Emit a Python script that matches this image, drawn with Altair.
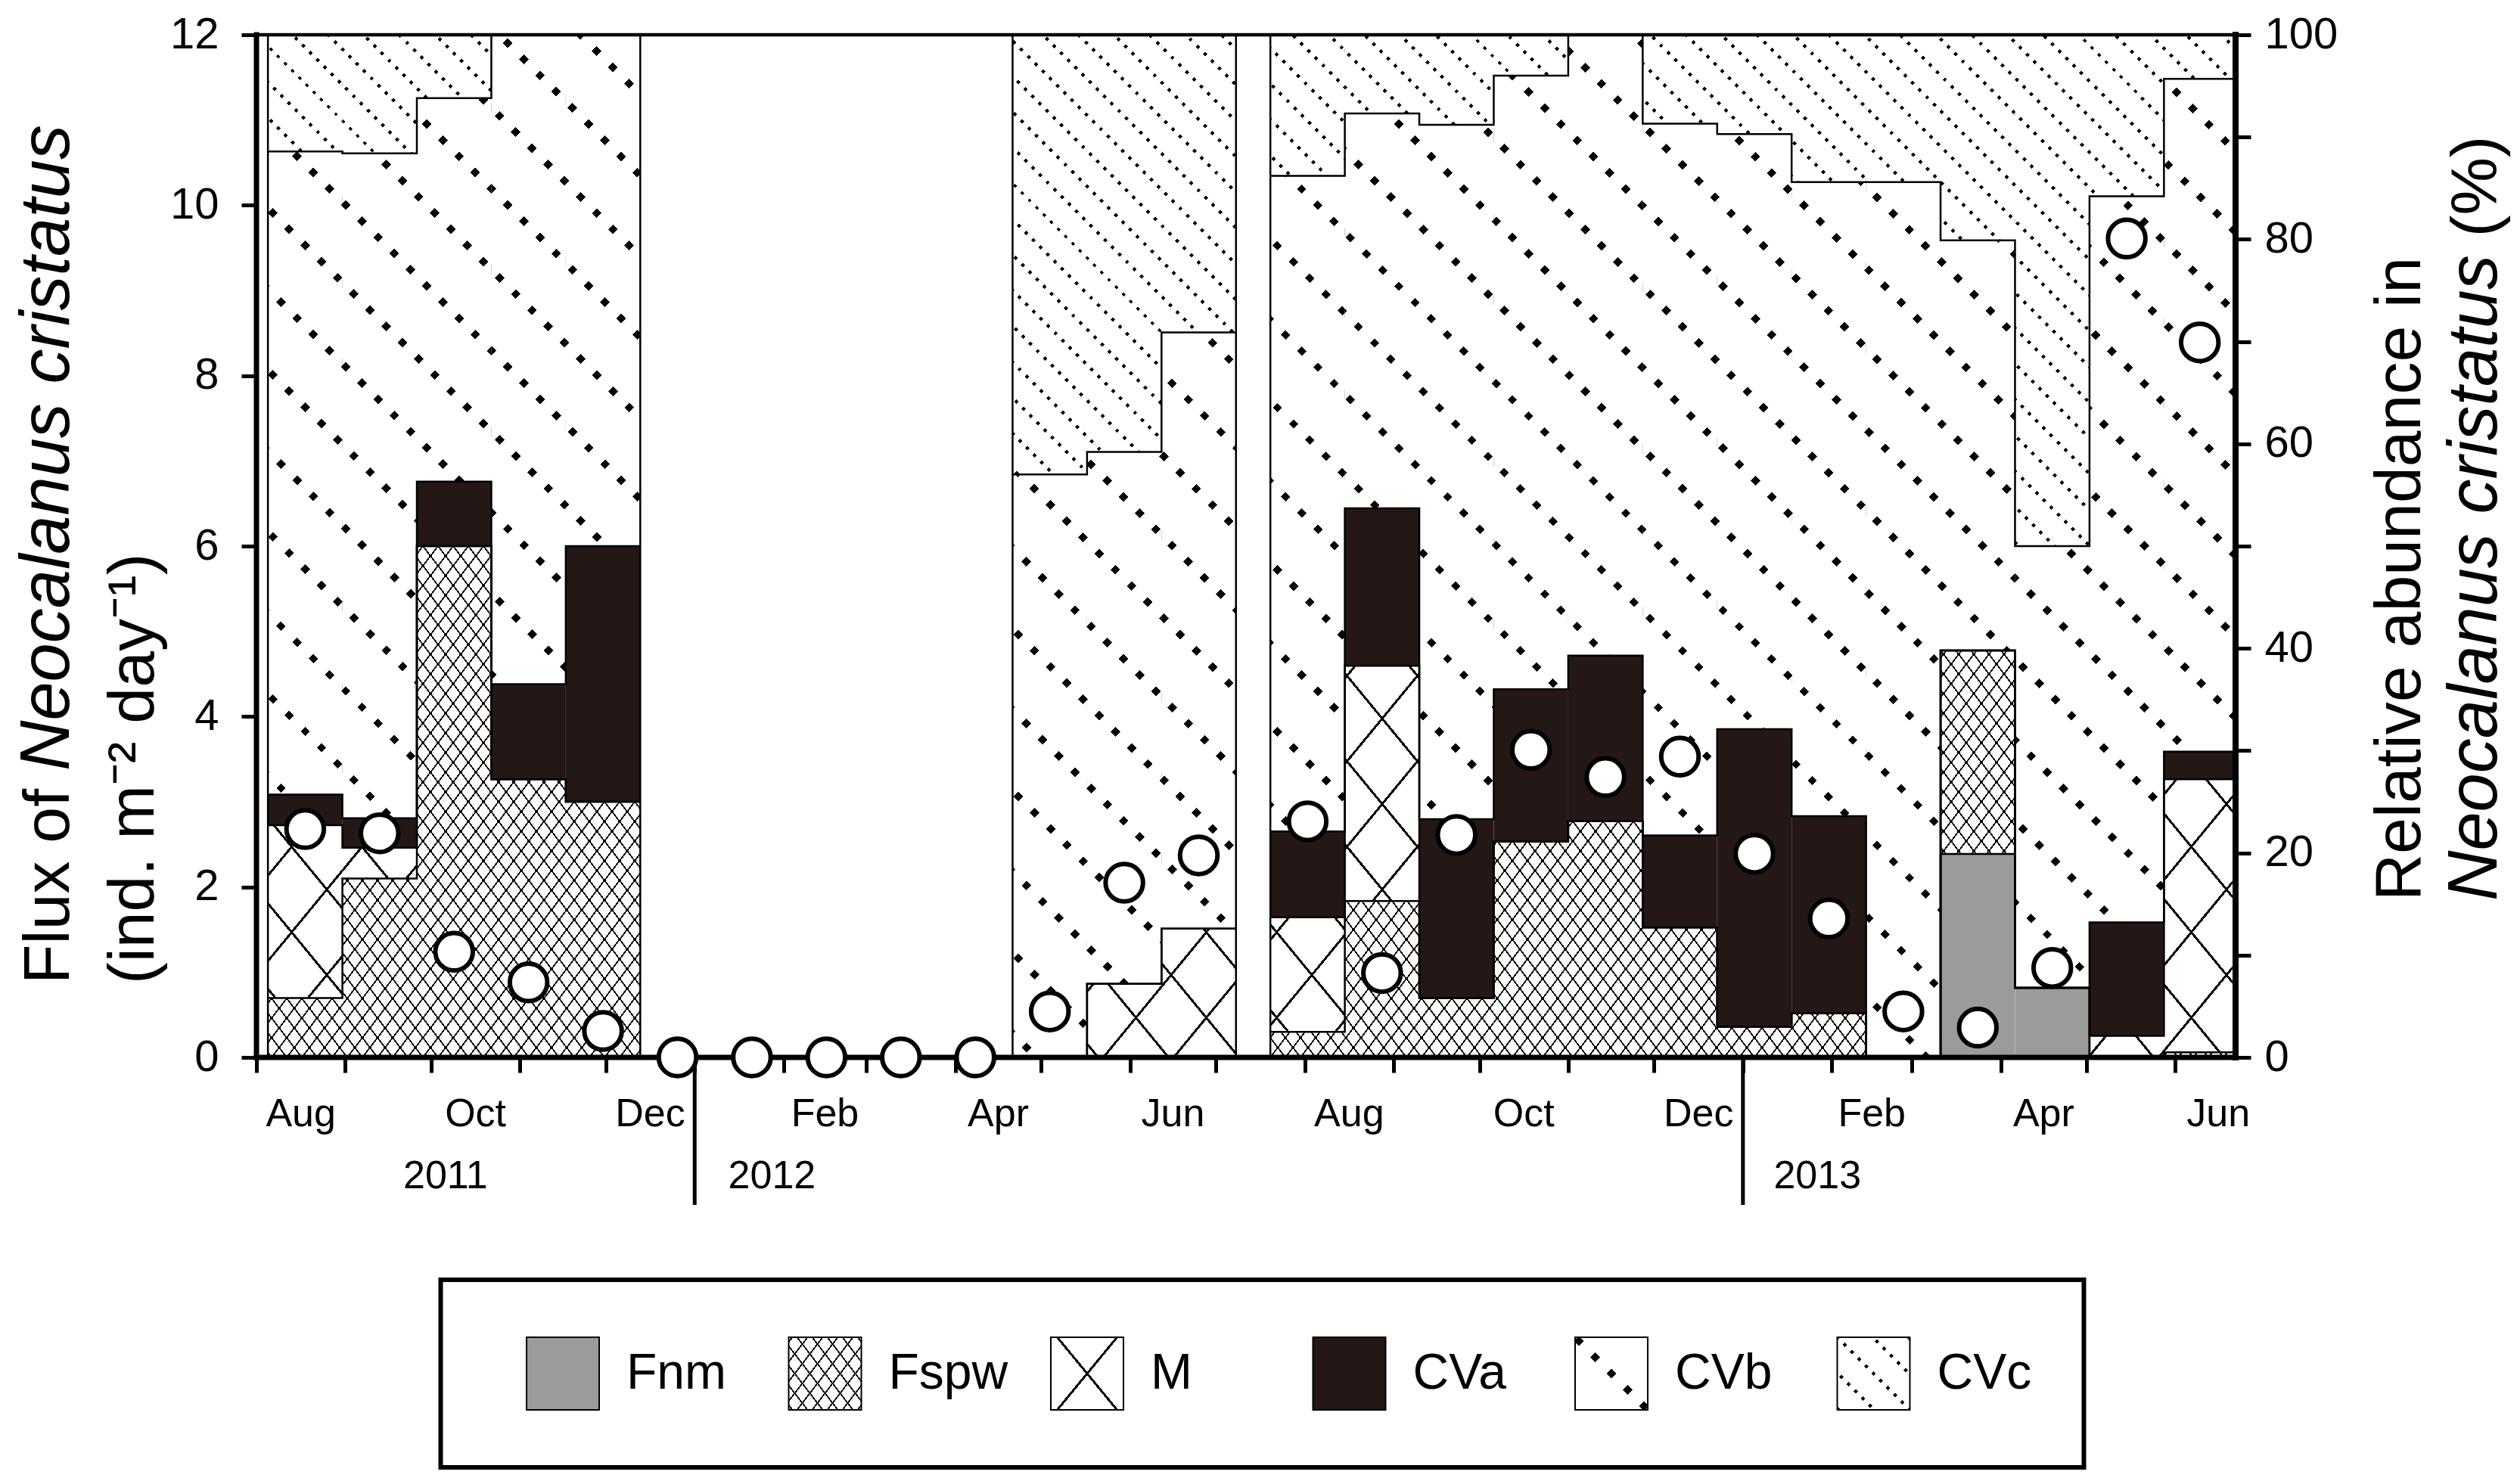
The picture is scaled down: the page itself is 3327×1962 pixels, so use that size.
import math
import datetime as dt
import altair as alt

FONT = "Liberation Sans"

# ---------------- data ----------------
# sediment-trap sampling intervals
starts = ["2011-08-05", "2011-08-31", "2011-09-26", "2011-10-22", "2011-11-17",
          "2011-12-13", "2012-01-08", "2012-02-03", "2012-02-29", "2012-03-26",
          "2012-04-21", "2012-05-17", "2012-06-12",
          "2012-07-20", "2012-08-15", "2012-09-10", "2012-10-06", "2012-11-01",
          "2012-11-27", "2012-12-23", "2013-01-18", "2013-02-13", "2013-03-11",
          "2013-04-06", "2013-05-02", "2013-05-28"]
ends = ["2011-08-31", "2011-09-26", "2011-10-22", "2011-11-17", "2011-12-13",
        "2012-01-08", "2012-02-03", "2012-02-29", "2012-03-26", "2012-04-21",
        "2012-05-17", "2012-06-12", "2012-07-08",
        "2012-08-15", "2012-09-10", "2012-10-06", "2012-11-01", "2012-11-27",
        "2012-12-23", "2013-01-18", "2013-02-13", "2013-03-11", "2013-04-06",
        "2013-05-02", "2013-05-28", "2013-06-22"]

N = None
# relative abundance (%) of each stage; None = no sample composition
fnm  = [0, 0, 0, 0, 0,  N, N, N, N, N,  0, 0, 0,
        0, 0, 0, 0, 0, 0, 0, 0, 0, 19.9, 6.8, 0, 0]
fspw = [5.8, 17.5, 50.0, 27.2, 25.0,  N, N, N, N, N,  0, 0, 0,
        2.5, 15.3, 5.8, 21.1, 23.1, 12.7, 3.0, 4.3, 0, 19.9, 0, 0, 0.5]
m_   = [16.9, 3.0, 0, 0, 0,  N, N, N, N, N,  0, 7.2, 12.6,
        11.2, 23.0, 0, 0, 0, 0, 0, 0, 0, 0, 0, 2.1, 26.7]
cva  = [3.0, 2.9, 6.3, 9.3, 25.0,  N, N, N, N, N,  0, 0, 0,
        8.4, 15.4, 17.5, 14.9, 16.2, 9.0, 29.1, 19.3, 0, 0, 0, 11.1, 2.7]
cvb  = [62.9, 65.0, 37.5, 63.5, 50.0,  N, N, N, N, N,  57.0, 52.0, 58.3,
        64.1, 38.6, 67.9, 60.0, 60.7, 69.6, 58.2, 62.0, 85.6, 40.1, 43.2, 71.0, 65.8]
cvc  = [11.4, 11.6, 6.2, 0, 0,  N, N, N, N, N,  43.0, 40.8, 29.1,
        13.8, 7.7, 8.8, 4.0, 0, 8.7, 9.7, 14.4, 14.4, 20.1, 50.0, 15.8, 4.3]
# flux of N. cristatus (ind. m-2 day-1)
flux = [2.68, 2.63, 1.24, 0.88, 0.31,  0, 0, 0, 0, 0,  0.54, 2.05, 2.37,
        2.77, 0.99, 2.61, 3.61, 3.29, 3.53, 2.39, 1.63, 0.54, 0.35, 1.05, 9.61, 8.39]

components = ["Fnm", "Fspw", "M", "CVa", "CVb", "CVc"]

month_label_months = ["2011-08", "2011-10", "2011-12", "2012-02", "2012-04", "2012-06",
                      "2012-08", "2012-10", "2012-12", "2013-02", "2013-04", "2013-06"]
month_label_text = ["Aug", "Oct", "Dec", "Feb", "Apr", "Jun",
                    "Aug", "Oct", "Dec", "Feb", "Apr", "Jun"]
year_text = ["2011", "2012", "2013"]
year_text_dates = ["2011-10-06", "2012-01-28", "2013-01-27"]
year_breaks = ["2012-01-01", "2013-01-01"]
axis_first_month = "2011-08-01"
axis_last_month = "2013-06-01"

# ---------------- helpers ----------------
ORIGIN = dt.date.fromisoformat(axis_first_month)


def day(s):
    return (dt.date.fromisoformat(s) - ORIGIN).days


def next_month(d):
    return dt.date(d.year + (d.month == 12), d.month % 12 + 1, 1)


W, H = 2616, 1352
XMAX = day(ends[-1])
KX = W / XMAX

BLACK = "#000000"
WHITE = "#ffffff"
CLEAR = "rgba(255,255,255,0)"
FNM_COL = "#9b9b9b"
CVA_COL = "#231815"
R2 = math.sqrt(0.5)


def grad(x0, y0, w, h, n, period, lw, phase, on, off):
    """Linear gradient (bbox units) that draws parallel stripes with a fixed
    pixel period, given the pixel geometry of the rectangle."""
    nx, ny = n
    vals = [nx * x + ny * y for x in (x0, x0 + w) for y in (y0, y0 + h)]
    s0, s1 = min(vals), max(vals)
    S = s1 - s0
    a = nx * w / S
    b = ny * h / S
    c = (nx * x0 + ny * y0 - s0) / S
    den = a * a + b * b
    x1 = -c * a / den
    y1 = -c * b / den
    x2 = x1 + a / den
    y2 = y1 + b / den
    stops = [{"offset": 0.0, "color": off}]
    k0 = math.floor((s0 - phase) / period) - 1
    k1 = math.ceil((s1 - phase) / period) + 1
    for k in range(k0, k1 + 1):
        c0 = phase + k * period - lw / 2
        ta = max((c0 - s0) / S, 0.0)
        tb = min((c0 + lw - s0) / S, 1.0)
        if tb <= ta:
            continue
        ta, tb = round(ta, 5), round(tb, 5)
        stops += [{"offset": ta, "color": off}, {"offset": ta, "color": on},
                  {"offset": tb, "color": on}, {"offset": tb, "color": off}]
    stops.append({"offset": 1.0, "color": off})
    return {"gradient": "linear", "x1": round(x1, 6), "y1": round(y1, 6),
            "x2": round(x2, 6), "y2": round(y2, 6), "stops": stops}


def fills(name, x0, y0, w, h, ref=(0.0, 0.0)):
    def ph(n):
        return n[0] * ref[0] + n[1] * ref[1]
    if name == "Fnm":
        return FNM_COL, None
    if name == "CVa":
        return CVA_COL, None
    if name in ("Fspw", "M"):
        a, b, lw = (20.0, 26.0, 1.8) if name == "Fspw" else (93.0, 113.0, 3.0)
        L = math.hypot(a, b)
        n1 = (b / L, -a / L)
        n2 = (b / L, a / L)
        sp = a * b / L
        return (grad(x0, y0, w, h, n1, sp, lw, ph(n1), BLACK, WHITE),
                grad(x0, y0, w, h, n2, sp, lw, ph(n2), BLACK, CLEAR))
    row_sp, dot_sp, dot = (75.7, 30.3, 9.0) if name == "CVb" else (33.4, 13.5, 4.2)
    nr = (R2, -R2)
    nm = (R2, R2)
    return (grad(x0, y0, w, h, nr, row_sp, dot, ph(nr), BLACK, WHITE),
            grad(x0, y0, w, h, nm, dot_sp, dot, ph(nm), CLEAR, WHITE))


# ---------------- tables ----------------
series = [fnm, fspw, m_, cva, cvb, cvc]
seg_rows, step_rows, block_rows, circle_rows = [], [], [], []

blocks = []
for i in range(len(starts)):
    circle_rows.append({"mid": (day(starts[i]) + day(ends[i])) / 2, "flux": flux[i]})
    if fspw[i] is None:
        continue
    if blocks and blocks[-1][-1] == i - 1 and ends[i - 1] == starts[i]:
        blocks[-1].append(i)
    else:
        blocks.append([i])

for i in range(len(starts)):
    if fspw[i] is None:
        continue
    s, e = day(starts[i]), day(ends[i])
    cum = 0.0
    for name, vals in zip(components, series):
        v = vals[i]
        lo = cum
        hi = min(cum + v, 100.0) if name != "CVc" else 100.0
        cum = cum + v
        if hi - lo <= 0.05:
            continue
        x0 = s * KX
        w = (e - s) * KX
        y0 = H * (1 - hi / 100.0)
        h = H * (hi - lo) / 100.0
        f1, f2 = fills(name, x0, y0, w, h)
        seg_rows.append({"s": s, "e": e, "lo": lo, "hi": hi, "stage": name,
                         "f1": f1, "f2": f2})

for bi, blk in enumerate(blocks):
    block_rows.append({"s": day(starts[blk[0]]), "e": day(ends[blk[-1]]), "lo": 0, "hi": 100})
    for k in range(5):
        key = f"{bi}-{k}"
        top = 0
        for i in blk:
            top = min(sum(series[j][i] for j in range(k + 1)), 100.0)
            step_rows.append({"key": key, "d": day(starts[i]), "v": top})
        step_rows.append({"key": key, "d": day(ends[blk[-1]]), "v": top})

tick_days = []
d = ORIGIN
last = dt.date.fromisoformat(axis_last_month)
while d <= last:
    tick_days.append((d - ORIGIN).days)
    d = next_month(d)

month_rows = []
for ym, txt in zip(month_label_months, month_label_text):
    st = dt.date(int(ym[:4]), int(ym[5:]), 1)
    month_rows.append({"d": (st - ORIGIN).days + (next_month(st) - st).days / 2, "t": txt})
year_rows = [{"d": day(dd), "t": t} for dd, t in zip(year_text_dates, year_text)]
break_rows = [{"d": day(dd)} for dd in year_breaks]

# ---------------- scales / axes ----------------
x_scale = alt.Scale(domain=[0, XMAX], nice=False, zero=False)
pct_scale = alt.Scale(domain=[0, 100], nice=False)
flux_scale = alt.Scale(domain=[0, 12], nice=False)

X_AX = alt.Axis(values=tick_days, labels=False, ticks=True, tickSize=20, tickWidth=5,
                tickColor="black", domain=False, grid=False, title=None)
Y_PCT_AX = alt.Axis(orient="right", values=list(range(0, 101, 10)),
                    labelExpr="datum.value % 20 == 0 ? datum.label : ''",
                    tickSize=20, tickWidth=5, tickColor="black", labelFontSize=58,
                    labelFont=FONT, labelColor="black", labelPadding=18,
                    labelOverlap=False, domain=False, grid=False, title=None)
Y_FLUX_AX = alt.Axis(orient="left", values=list(range(0, 13, 2)), tickSize=20,
                     tickWidth=5, tickColor="black", labelFontSize=58, labelFont=FONT,
                     labelColor="black", labelPadding=30, labelOverlap=False,
                     domain=False, grid=False, title=None)


def X(field):
    return alt.X(field, scale=x_scale, axis=X_AX)


def Yp(field):
    return alt.Y(field, scale=pct_scale, axis=Y_PCT_AX)


seg_data = alt.Data(values=seg_rows)

seg_base = alt.Chart(seg_data).mark_rect(strokeWidth=0).encode(
    x=X("s:Q"), x2="e:Q", y=Yp("hi:Q"), y2="lo:Q",
    fill=alt.Fill("f1:N", scale=None, legend=None))

seg_over = alt.Chart(seg_data).transform_filter("datum.f2 != null").mark_rect(
    strokeWidth=0).encode(
    x=X("s:Q"), x2="e:Q", y=Yp("hi:Q"), y2="lo:Q",
    fill=alt.Fill("f2:N", scale=None, legend=None))

steps = alt.Chart(alt.Data(values=step_rows)).mark_line(
    interpolate="step-after", color="black", strokeWidth=2.5).encode(
    x=X("d:Q"), y=Yp("v:Q"), detail="key:N")

block_border = alt.Chart(alt.Data(values=block_rows)).mark_rect(
    filled=False, stroke="black", strokeWidth=2.5).encode(
    x=X("s:Q"), x2="e:Q", y=Yp("hi:Q"), y2="lo:Q")

one = alt.Data(values=[{"z": 0}])


def frame(xa, xb, ya, yb, sw):
    return alt.Chart(one).mark_rule(color="black", strokeWidth=sw, strokeCap="square").encode(
        x=alt.X(datum=xa, scale=x_scale, axis=X_AX), x2=alt.X2(datum=xb),
        y=alt.Y(datum=ya, scale=pct_scale, axis=Y_PCT_AX), y2=alt.Y2(datum=yb))


frames = [frame(0, 0, 0, 100, 7), frame(XMAX, XMAX, 0, 100, 8),
          frame(0, XMAX, 0, 0, 7), frame(0, XMAX, 100, 100, 4.5)]

break_lines = alt.Chart(alt.Data(values=break_rows)).mark_rule(
    color="black", strokeWidth=5).encode(x=X("d:Q"), y=alt.value(H), y2=alt.value(H + 195))

month_labels = alt.Chart(alt.Data(values=month_rows)).mark_text(
    font=FONT, fontSize=52, baseline="alphabetic", align="center", color="black").encode(
    x=X("d:Q"), y=alt.value(H + 91), text="t:N")

year_labels = alt.Chart(alt.Data(values=year_rows)).mark_text(
    font=FONT, fontSize=52, baseline="alphabetic", align="center", color="black").encode(
    x=X("d:Q"), y=alt.value(H + 173), text="t:N")

TS_N = 86   # upright title text
TS_I = 92   # italic (species name) title text
w_flux_of = 3.279 * TS_N
w_neo = 9.281 * TS_I
w_space = 0.278 * TS_N


def title_piece(text, x, y, size, italic=False):
    return alt.Chart(one).mark_text(
        font=FONT, fontSize=size, angle=270, align="left", baseline="alphabetic",
        color="black", fontStyle="italic" if italic else "normal").encode(
        x=alt.value(x), y=alt.value(y), text=alt.value(text))


L_START = 1255
R_START = 1145
LB1 = -248
titles = [
    title_piece("Flux of", LB1, L_START, TS_N),
    title_piece("Neocalanus cristatus", LB1, L_START - w_flux_of, TS_I, italic=True),
    title_piece("(ind. m\u207b\u00b2 day\u207b\u00b9)", LB1 + 112, L_START, TS_N),
    title_piece("Relative abundance in", W + 243.5, R_START, TS_N),
    title_piece("Neocalanus cristatus", W + 345, R_START, TS_I, italic=True),
    title_piece("(%)", W + 345, R_START - w_neo - w_space, TS_N),
]

circles = alt.Chart(alt.Data(values=circle_rows)).mark_point(
    shape="circle", filled=True, fill="white", stroke="black", strokeWidth=6,
    size=2450, opacity=1, fillOpacity=1, strokeOpacity=1).encode(
    x=X("mid:Q"), y=alt.Y("flux:Q", scale=flux_scale, axis=Y_FLUX_AX))

pct_group = alt.layer(seg_base, seg_over, steps, block_border, break_lines,
                      month_labels, year_labels, *frames, *titles)
flux_group = alt.layer(circles)
main_layer = alt.layer(pct_group, flux_group).resolve_scale(y="independent")

# ---------------- legend (below the plot, own x scale) ----------------
SW = 96
BOX_X0, BOX_X1 = 243.5, 2415.5
BOX_Y0, BOX_Y1 = H + 294, H + 542
SW_Y = (BOX_Y0 + BOX_Y1) / 2
leg_rows = []
for nme in components:
    f1, f2 = fills(nme, 0, 0, SW, SW, ref=(SW / 2, SW / 2))
    leg_rows.append({"name": nme, "f1": f1, "f2": f2})
leg_data = alt.Data(values=leg_rows)
leg_x = alt.X("name:N", scale=alt.Scale(type="point", domain=components,
                                         range=[405, 2137.5], padding=0), axis=None)

box = alt.Chart(one).mark_rect(fill="white", stroke="black", strokeWidth=6).encode(
    x=alt.value(BOX_X0), x2=alt.value(BOX_X1), y=alt.value(BOX_Y0), y2=alt.value(BOX_Y1))
sw1 = alt.Chart(leg_data).mark_square(size=SW * SW, opacity=1, fillOpacity=1, strokeWidth=0).encode(
    x=leg_x, y=alt.value(SW_Y), fill=alt.Fill("f1:N", scale=None, legend=None))
sw2 = alt.Chart(leg_data).transform_filter("datum.f2 != null").mark_square(
    size=SW * SW, opacity=1, fillOpacity=1, strokeWidth=0).encode(
    x=leg_x, y=alt.value(SW_Y), fill=alt.Fill("f2:N", scale=None, legend=None))
sw_out = alt.Chart(leg_data).mark_square(size=SW * SW, filled=False, opacity=1,
                                         stroke="black", strokeWidth=2).encode(
    x=leg_x, y=alt.value(SW_Y))
leg_txt = alt.Chart(leg_data).mark_text(font=FONT, fontSize=66, align="left",
                                        baseline="alphabetic", dx=84, color="black").encode(
    x=leg_x, y=alt.value(SW_Y + 20), text="name:N")

legend_group = alt.layer(box, sw1, sw2, sw_out, leg_txt)

chart = alt.layer(main_layer, legend_group).resolve_scale(x="independent").properties(
    width=W, height=H, padding={"left": 8, "top": 9, "right": 0, "bottom": 0},
    background="white").configure_view(stroke="transparent")

chart.save("out.html", embed_options={"renderer": "svg", "actions": False})
